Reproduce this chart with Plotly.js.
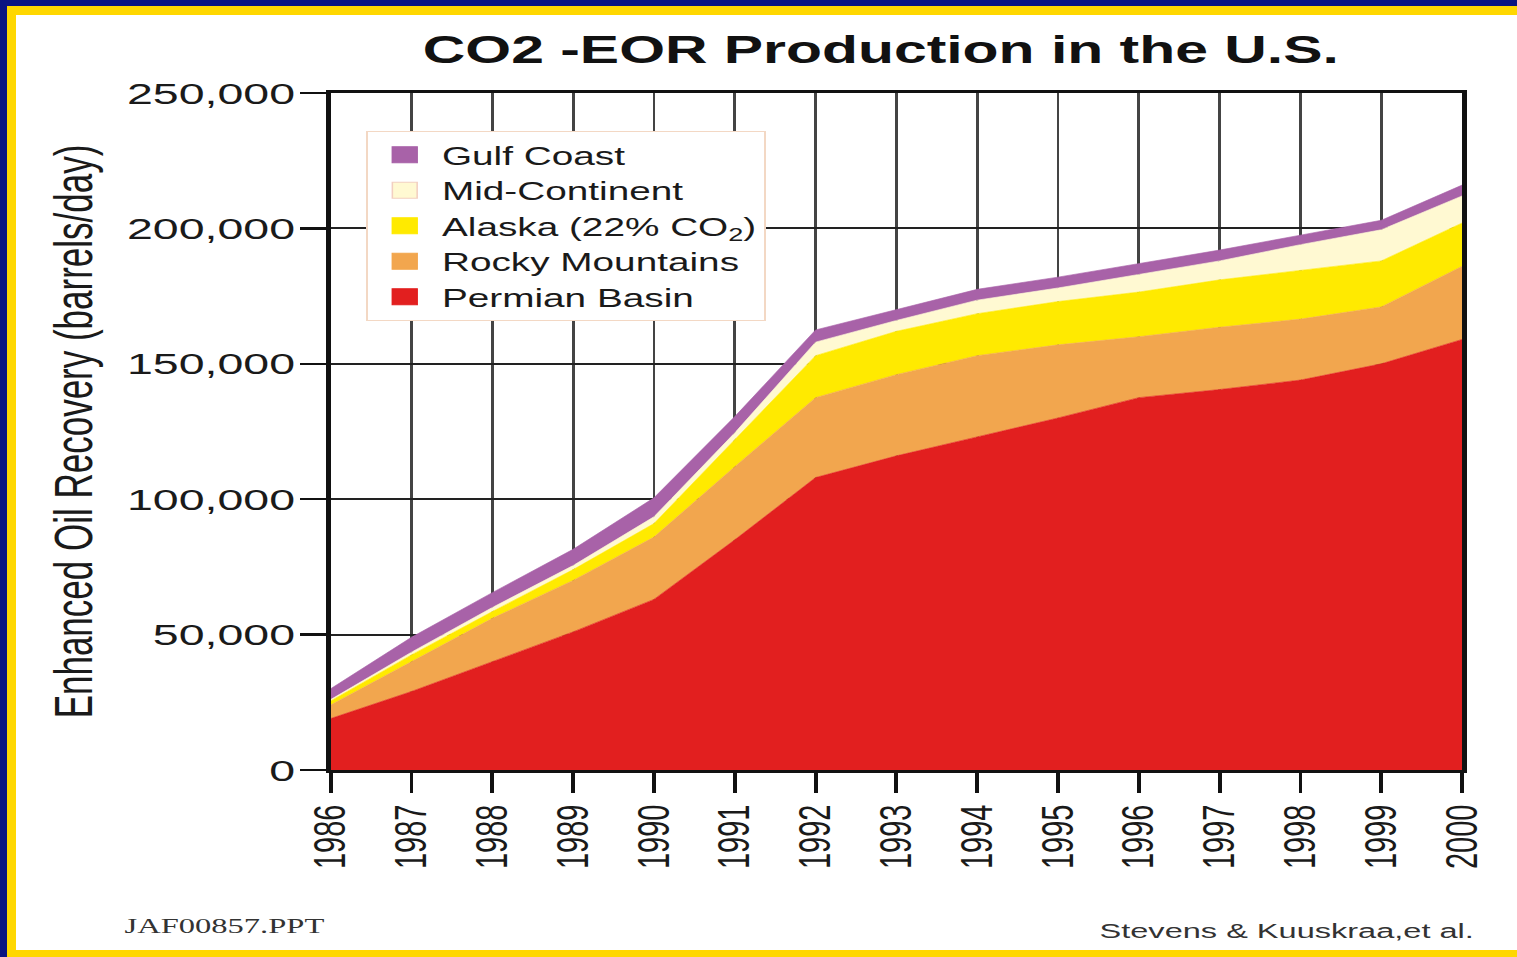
<!DOCTYPE html>
<html>
<head>
<meta charset="utf-8">
<script src="https://cdn.plot.ly/plotly-3.0.1.min.js"></script>
<style>
  html, body { margin: 0; padding: 0; width: 1517px; height: 957px; overflow: hidden; background: #ffffff; }
  #navy { position: absolute; left: 0; top: 0; width: 1517px; height: 957px; background: #0A1482; }
  #gold { position: absolute; left: 7px; top: 6px; width: 1510px; height: 951px; background: #FFD700; }
  #paper { position: absolute; left: 16px; top: 15px; width: 1501px; height: 935px; background: #ffffff; overflow: hidden; }
  #chart { position: absolute; left: 0; top: 0; width: 964px; height: 935px; transform-origin: 0 0; }
</style>
</head>
<body>
<div id="navy"></div>
<div id="gold"></div>
<div id="paper"><div id="chart"></div></div>
<script>
// ---- data (barrels/day) ----
const years = [1986, 1987, 1988, 1989, 1990, 1991, 1992, 1993, 1994, 1995, 1996, 1997, 1998, 1999, 2000];
const permianBasin   = [19000, 29000, 40000, 51000, 63000, 85000, 108000, 116000, 123000, 130000, 137500, 140500, 144000, 150000, 159000];
const rockyMountains = [5000, 11000, 16000, 19000, 23000, 27000, 29500, 30000, 30000, 27000, 22500, 23000, 22500, 21000, 27000];
const alaska         = [1500, 2500, 2500, 4000, 5000, 10000, 15500, 16000, 15500, 16000, 16500, 17500, 18000, 17000, 16000];
const midContinent   = [500, 1000, 1500, 1500, 2500, 2500, 5000, 4000, 5000, 5000, 6500, 7000, 9500, 11500, 10000];
const gulfCoast      = [4000, 5500, 5500, 6000, 7000, 6000, 4500, 4000, 4000, 4000, 4000, 4000, 3500, 3500, 4000];

const seriesNames  = ["Permian Basin", "Rocky Mountains", "Alaska (22% CO<sub>2</sub>)", "Mid-Continent", "Gulf Coast"];
const seriesValues = [permianBasin, rockyMountains, alaska, midContinent, gulfCoast];
const seriesColors = ["#E21F1F", "#F2A64E", "#FFEA00", "#FFF9D2", "#A862A8"];
const yTicks = [0, 50000, 100000, 150000, 200000, 250000];

const titleText = "CO2 -EOR Production in the U.S.";
const yTitleText = "Enhanced Oil Recovery (barrels/day)";
const noteLeft = "JAF00857.PPT";
const noteRight = "Stevens &amp; Kuuskraa,et al.";

const sans = "Liberation Sans, Arial, Helvetica, sans-serif";

const traces = [];
seriesNames.forEach((name, i) => {
  traces.push({
    type: "scatter", mode: "lines", x: years, y: seriesValues[i],
    stackgroup: "eor", name: name, legendgroup: "g" + i, showlegend: false,
    line: { color: seriesColors[i], width: 0.5 },
    fillcolor: seriesColors[i], hoverinfo: "skip"
  });
});
// legend entries (square swatches)
seriesNames.forEach((name, i) => {
  traces.push({
    type: "scatter", mode: "markers", x: [null], y: [null],
    name: name, legendgroup: "g" + i, showlegend: true,
    marker: { symbol: "square", size: 16, color: seriesColors[i],
              line: { color: i === 3 ? "#f2cfc0" : seriesColors[i], width: 1 } },
    hoverinfo: "skip"
  });
});

const L = 203.2, R = 31.1, T = 78, B = 180;
const W = 964, H = 935;
const pw = W - L - R, ph = H - T - B;
const px = v => (v - L) / pw;       // div-x (unscaled) -> paper
const py = v => (H - B - v) / ph;   // div-y -> paper

const layout = {
  width: W, height: H,
  margin: { l: L, r: R, t: T, b: B, pad: 0 },
  paper_bgcolor: "rgba(0,0,0,0)", plot_bgcolor: "#ffffff",
  showlegend: true,
  hovermode: false,
  title: {
    text: "<b>" + titleText + "</b>",
    font: { family: sans, size: 38, color: "#111111" },
    xref: "paper", x: px(558), xanchor: "center",
    yref: "container", y: 1 - 35 / H, yanchor: "middle"
  },
  xaxis: {
    range: [1986, 2000], tickmode: "array", tickvals: years, ticktext: years.map(String),
    tickangle: -90, ticks: "outside", ticklen: 20, tickwidth: 2.5, tickcolor: "#111",
    tickfont: { family: sans, size: 29, color: "#1a1a1a" },
    showgrid: true, gridcolor: "#444", gridwidth: 1.8,
    showline: true, linecolor: "#111", linewidth: 3, mirror: true,
    zeroline: false, fixedrange: true
  },
  yaxis: {
    range: [0, 250000], tickmode: "array", tickvals: yTicks, tickformat: ",d",
    ticks: "outside", ticklen: 17, tickwidth: 2.5, tickcolor: "#111",
    ticklabelstandoff: -3,
    tickfont: { family: sans, size: 30, color: "#1a1a1a" },
    showgrid: true, gridcolor: "#222", gridwidth: 2,
    showline: true, linecolor: "#111", linewidth: 3, mirror: true,
    zeroline: false, fixedrange: true,
    title: { text: yTitleText, font: { family: sans, size: 35, color: "#1a1a1a" }, standoff: 12 }
  },
  legend: {
    x: px(226), xanchor: "left", y: py(116), yanchor: "top",
    bgcolor: "#ffffff", bordercolor: "#f3d8c4", borderwidth: 1,
    font: { family: sans, size: 25, color: "#1a1a1a" },
    traceorder: "reversed", itemwidth: 38
  },
  annotations: [
    { text: noteLeft, xref: "paper", yref: "paper", x: px(68.4), y: py(911), xanchor: "left", yanchor: "middle",
      showarrow: false, font: { family: "Liberation Serif, Times New Roman, serif", size: 21, color: "#333" } },
    { text: noteRight, xref: "paper", yref: "paper", x: px(943), y: py(915), xanchor: "right", yanchor: "middle",
      showarrow: false, font: { family: sans, size: 21, color: "#333" } }
  ]
};

Plotly.newPlot("chart", traces, layout, { displayModeBar: false, staticPlot: true }).then(() => {
  document.getElementById("chart").style.transform = "scaleX(1.55)";
});
</script>
</body>
</html>
